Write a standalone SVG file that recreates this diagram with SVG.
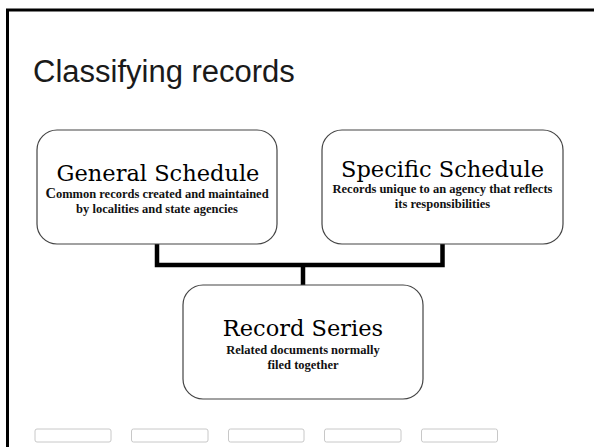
<svg xmlns="http://www.w3.org/2000/svg" width="594" height="447" viewBox="0 0 594 447">
<style>
.box{fill:#fff;stroke:#444;stroke-width:1.2}
.head{font-family:"DejaVu Serif","Liberation Serif",serif;font-size:22.5px;fill:#000;text-anchor:middle}
.sub{font-family:"Liberation Serif","Times New Roman",serif;font-weight:bold;font-size:12.5px;fill:#111;text-anchor:middle}
.conn{fill:none;stroke:#000;stroke-width:4.5}
.tab{fill:#fff;stroke:#c8c8c8;stroke-width:1}
</style>
<rect x="0" y="0" width="594" height="447" fill="#fff"/>
<rect x="7.5" y="10" width="620" height="480" fill="none" stroke="#000" stroke-width="3"/>
<text x="33" y="82" font-family="Liberation Sans, Arial, sans-serif" font-size="31" fill="#1a1a1a">Classifying records</text>
<g id="connectors">
<path class="conn" d="M157 244 V265 H442.5 V244 M303 265 V285"/>
</g>
<g id="general">
<rect class="box" x="37" y="130" width="240" height="114" rx="20"/>
<text class="head" x="158" y="181">General Schedule</text>
<text class="sub" x="157" y="198"><tspan font-size="14.5">C</tspan>ommon records created and maintained</text>
<text class="sub" x="157" y="213">by localities and state agencies</text>
</g>
<g id="specific">
<rect class="box" x="322" y="130" width="241" height="114" rx="20"/>
<text class="head" x="442.5" y="177">Specific Schedule</text>
<text class="sub" x="442.5" y="193" font-size="12">Records unique to an agency that reflects</text>
<text class="sub" x="442.5" y="208" font-size="12">its responsibilities</text>
</g>
<g id="series">
<rect class="box" x="183" y="285" width="240" height="114" rx="20"/>
<text class="head" x="303" y="336">Record Series</text>
<text class="sub" x="303" y="354">Related documents normally</text>
<text class="sub" x="303" y="369">filed together</text>
</g>
<g id="tabs">
<rect class="tab" x="35" y="429" width="76" height="13" rx="2"/>
<rect class="tab" x="131.5" y="429" width="76.5" height="13" rx="2"/>
<rect class="tab" x="228.5" y="429" width="75.5" height="13" rx="2"/>
<rect class="tab" x="324.5" y="429" width="76.5" height="13" rx="2"/>
<rect class="tab" x="421.5" y="429" width="76" height="13" rx="2"/>
</g>
</svg>
